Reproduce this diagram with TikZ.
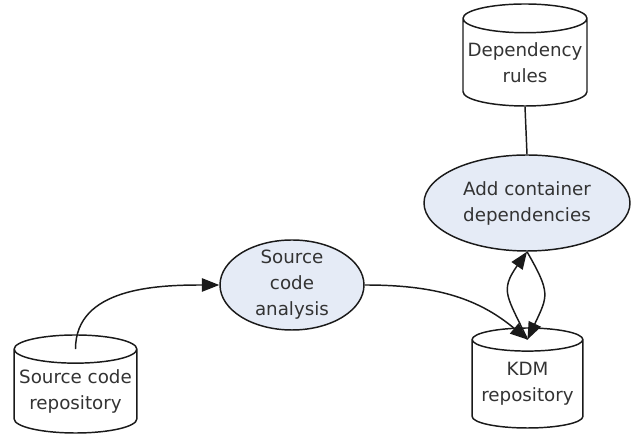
\documentclass[tikz,border=0pt]{standalone}
\usepackage{fontspec}
\setmainfont{DejaVu Sans}
\usetikzlibrary{arrows.meta,calc,shapes.geometric}
\definecolor{ink}{HTML}{1A1A1A}
\definecolor{textgray}{HTML}{333333}
\definecolor{procfill}{HTML}{E5EBF6}

\begin{document}
\begin{tikzpicture}[
    x=0.75pt, y=0.75pt,
    font=\fontsize{13.7}{19.5}\selectfont,
    store/.style={cylinder, shape border rotate=90, aspect=0.25, draw=ink, line width=1.1pt,
        fill=white, text=textgray, align=center, inner sep=0pt, anchor=shape center},
    process/.style={ellipse, draw=ink, line width=1.1pt, fill=procfill, text=textgray,
        align=center, inner sep=0pt},
    flow/.style={-{Triangle[length=13pt, width=10pt]}, draw=ink, line width=1.1pt},
    link/.style={draw=ink, line width=1.1pt}
]
\useasboundingbox (0,0) rectangle (632,438);

% Repositories (cylinders).
\node[store, minimum width=92pt, minimum height=73.5pt] (repo) at (75.5,54) {Source code\\repository};
\node[store, minimum width=83pt, minimum height=75pt] (kdm) at (527.5,60) {KDM\\repository};
\node[store, minimum width=93pt, minimum height=76.5pt] (rules) at (525,383) {Dependency\\rules};

% Processing steps.
\node[process, minimum width=108pt, minimum height=67.5pt, inner ysep=-6pt] (analysis) at (292,153)
    {Source\\code\\analysis};
\node[process, minimum width=154.5pt, minimum height=72pt] (deps) at (527,235)
    {Add container\\dependencies};

% Cap centres of the cylinders, where the flows attach.
\coordinate (repotop) at ($(repo.before top)!0.5!(repo.after top)$);
\coordinate (kdmtop) at ($(kdm.before top)!0.5!(kdm.after top)$);

% Flows.
\draw[flow] (repotop) to[out=90, in=180] (analysis.west);
\draw[flow] (analysis.east) to[out=0, in=140] (kdmtop);
\draw[flow] (kdmtop) to[out=115, in=235, looseness=1.4] (deps.south);
\draw[flow] (deps.south) to[out=300, in=65, looseness=1.4] (kdmtop);
\draw[link] (rules.bottom) -- (deps.north);

\end{tikzpicture}
\end{document}
